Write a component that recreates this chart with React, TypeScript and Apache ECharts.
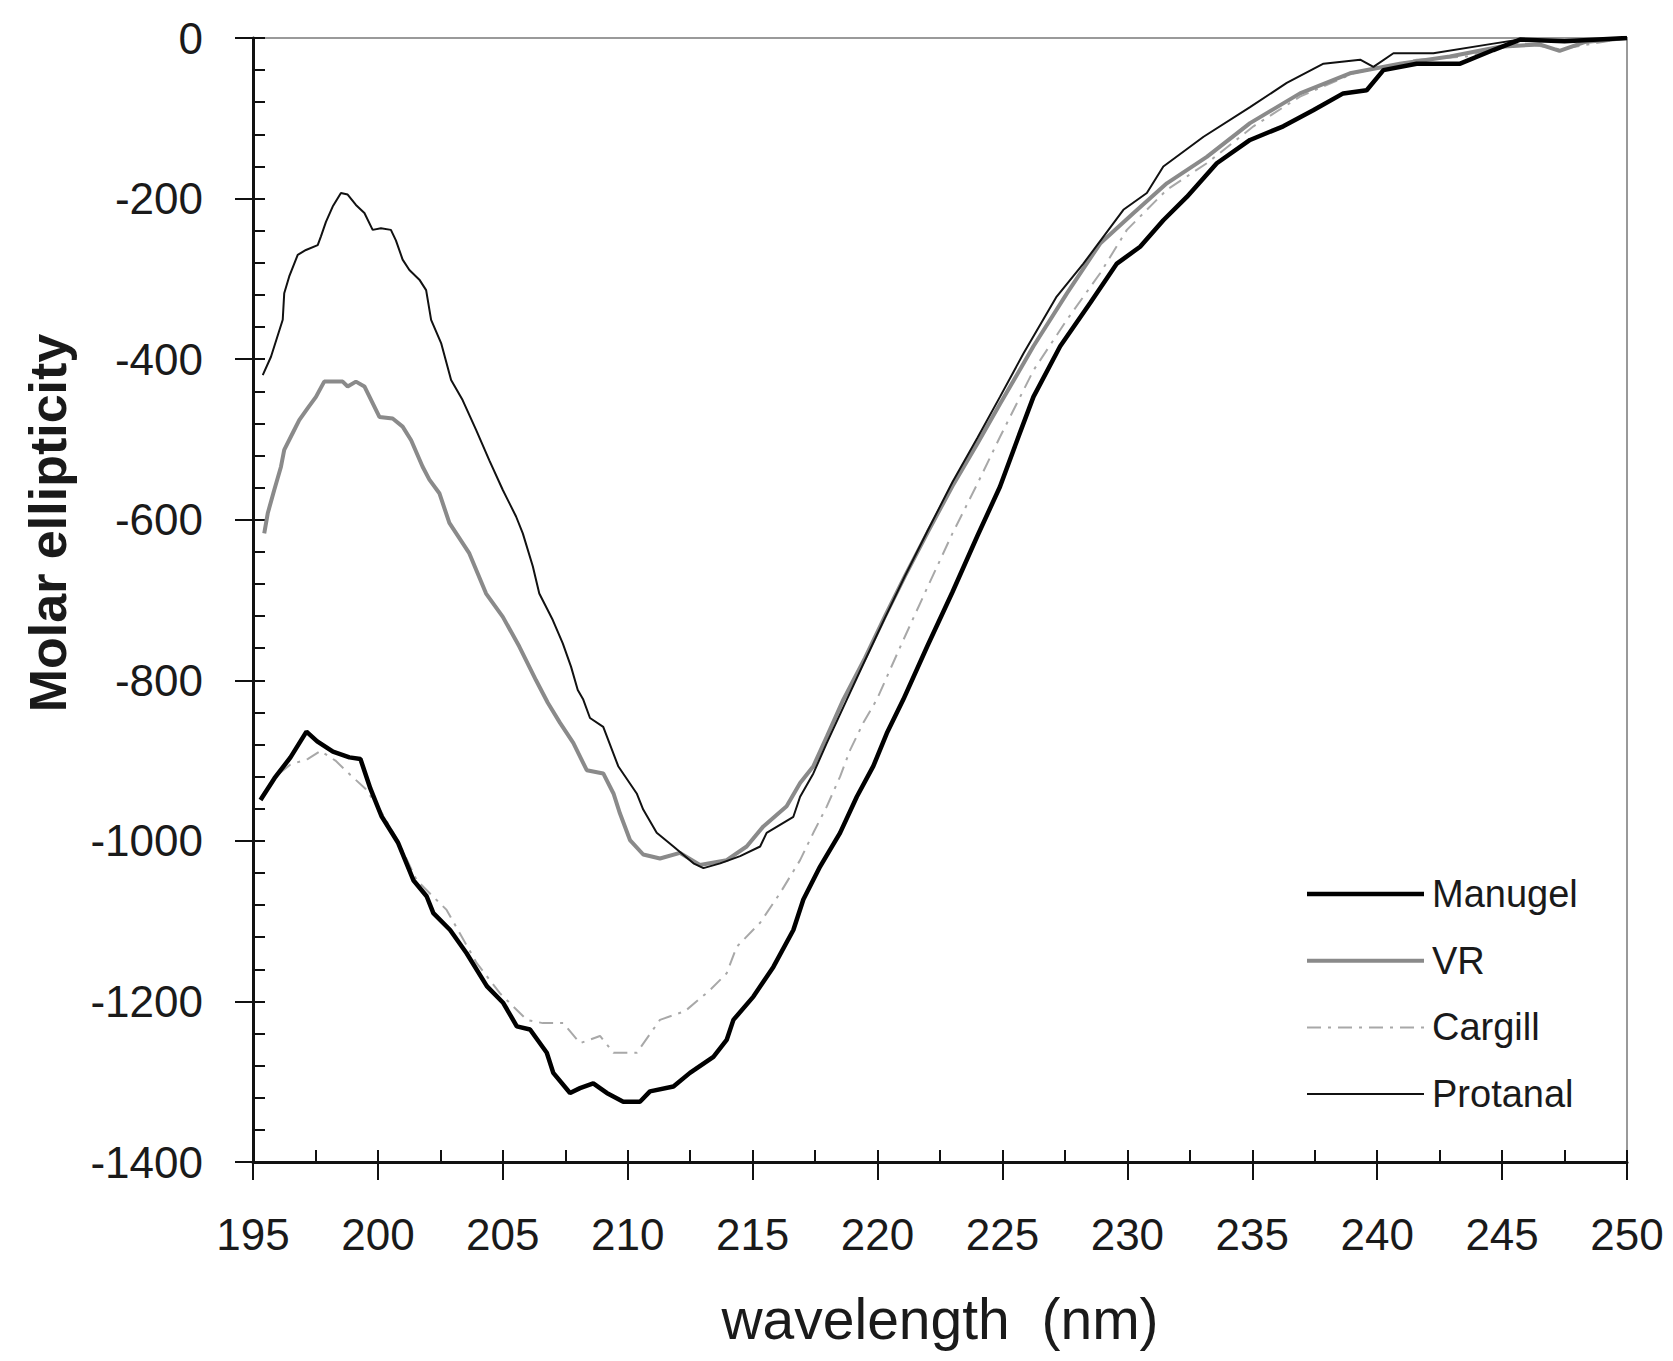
import React, { useEffect, useRef } from 'react';
import * as echarts from 'echarts';

// ---- Data (wavelength nm, molar ellipticity) ----
const seriesNames = ['Manugel', 'VR', 'Cargill', 'Protanal'];

const xRange = [195, 250];
const yRange = [-1400, 0];
const xStep = 5;
const yStep = 200;

const manugel: [number, number][] = [
  [195.3, -949], [195.86, -922], [196.5, -896], [197.14, -864], [197.57, -876], [198.2, -889],
  [198.86, -896], [199.3, -898], [199.7, -935], [200.14, -969], [200.8, -1002], [201.42, -1049],
  [201.95, -1069], [202.22, -1090], [202.89, -1111], [203.55, -1140], [204.36, -1181], [205.02, -1202],
  [205.56, -1231], [206.09, -1235], [206.76, -1264], [207.02, -1289], [207.69, -1314], [208.09, -1308],
  [208.62, -1302], [209.16, -1314], [209.82, -1325], [210.49, -1325], [210.89, -1312], [211.83, -1306],
  [212.49, -1289], [213.43, -1269], [213.96, -1248], [214.23, -1223], [215.03, -1194], [215.83, -1157],
  [216.63, -1111], [217.03, -1073], [217.7, -1032], [218.5, -990], [219.17, -945], [219.83, -907],
  [220.37, -866], [221.03, -824], [222.0, -757], [223.0, -690], [224.0, -620], [224.9, -559],
  [225.6, -500], [226.24, -447], [227.31, -384], [228.51, -330], [229.58, -281], [230.51, -260],
  [231.44, -227], [232.38, -198], [233.58, -156], [234.91, -127], [236.24, -110], [237.44, -90],
  [238.64, -69], [239.58, -65], [240.25, -40], [241.58, -32], [243.32, -32], [244.65, -15],
  [245.72, -2], [247.5, -4], [250, 0],
];

const vr: [number, number][] = [
  [195.45, -617], [195.59, -592], [195.85, -563], [196.12, -534], [196.25, -513], [196.59, -492],
  [196.85, -476], [197.19, -461], [197.52, -447], [197.85, -428], [198.59, -428], [198.79, -434],
  [199.12, -428], [199.46, -434], [200.06, -472], [200.59, -474], [200.99, -484], [201.33, -501],
  [201.79, -534], [202.06, -550], [202.46, -567], [202.86, -604], [203.66, -642], [204.33, -692],
  [205.0, -721], [205.66, -758], [206.33, -800], [206.8, -828], [207.29, -853], [207.82, -878],
  [208.36, -912], [209.02, -916], [209.43, -941], [209.69, -966], [210.09, -999], [210.62, -1017],
  [211.29, -1022], [212.09, -1015], [212.89, -1030], [213.96, -1024], [214.76, -1007], [215.43, -982],
  [216.36, -957], [216.9, -928], [217.43, -907], [217.97, -870], [218.63, -824], [219.5, -772],
  [220.3, -720], [221.1, -670], [222.0, -616], [223.0, -558], [224.0, -505], [224.9, -456],
  [226.24, -384], [227.58, -318], [228.91, -256], [230.25, -218], [231.58, -181], [233.18, -148],
  [234.91, -106], [236.91, -69], [238.91, -44], [240.91, -32], [242.91, -23], [244.91, -11],
  [246.5, -8], [247.3, -16], [248.3, -5], [250, 0],
];

const cargill: [number, number][] = [
  [195.3, -946], [195.9, -920], [196.5, -905], [197.2, -898], [197.7, -888], [198.3, -900],
  [198.9, -918], [199.5, -935], [200.1, -962], [200.8, -1000], [201.55, -1049], [202.75, -1086],
  [203.95, -1152], [204.89, -1190], [205.96, -1223], [206.6, -1227], [207.42, -1227], [208.09, -1252],
  [208.89, -1243], [209.43, -1264], [210.36, -1264], [211.29, -1223], [212.3, -1212], [213.29, -1186],
  [213.96, -1165], [214.36, -1132], [215.3, -1102], [216.1, -1065], [216.9, -1024], [217.43, -990],
  [217.97, -957], [218.5, -920], [218.9, -887], [219.43, -853], [219.97, -824], [221.0, -752],
  [222.0, -684], [223.0, -617], [224.0, -555], [224.9, -497], [226.24, -414], [227.58, -351],
  [228.91, -293], [229.98, -239], [231.58, -189], [233.18, -156], [235.05, -110], [236.91, -73],
  [239.05, -44], [241.58, -27], [243.58, -23], [245.72, -6], [247.3, -14], [250, 0],
];

const protanal: [number, number][] = [
  [195.39, -420], [195.72, -397], [196.19, -351], [196.25, -318], [196.45, -297], [196.79, -270],
  [197.12, -264], [197.59, -258], [197.72, -247], [197.92, -229], [198.19, -210], [198.52, -193],
  [198.79, -195], [199.12, -208], [199.46, -218], [199.79, -239], [200.12, -237], [200.52, -239],
  [200.72, -252], [200.99, -276], [201.26, -289], [201.66, -301], [201.93, -314], [202.13, -351],
  [202.53, -380], [202.93, -426], [203.39, -451], [203.93, -488], [204.46, -526], [205.0, -563],
  [205.53, -596], [205.8, -617], [206.2, -658], [206.46, -692], [207.0, -725], [207.4, -754],
  [207.73, -783], [208.0, -812], [208.22, -824], [208.49, -847], [209.02, -858], [209.62, -907],
  [210.36, -941], [210.62, -961], [211.16, -990], [211.83, -1007], [212.63, -1028], [213.03, -1034],
  [213.7, -1028], [214.5, -1019], [215.3, -1007], [215.56, -990], [216.63, -970], [216.9, -945],
  [217.43, -916], [217.97, -878], [218.77, -824], [219.5, -775], [220.3, -722], [221.1, -670],
  [222.0, -614], [223.0, -553], [224.0, -498], [224.9, -447], [225.84, -393], [227.17, -322],
  [228.24, -281], [229.84, -214], [230.78, -193], [231.44, -160], [233.05, -123], [234.91, -86],
  [236.38, -56], [237.85, -32], [239.32, -27], [239.85, -36], [240.65, -19], [242.25, -19],
  [244.65, -7], [245.72, -2], [247.5, -3], [250, 0],
];

const FONT = '"Liberation Sans", Arial, sans-serif';

const styles: Record<string, { color: string; width: number; type: any; z: number }> = {
  Manugel: { color: '#000000', width: 4.5, type: 'solid', z: 5 },
  VR: { color: '#8a8a8a', width: 4, type: 'solid', z: 3 },
  Cargill: { color: '#a8a8a8', width: 2, type: [14, 7, 3, 7], z: 2 },
  Protanal: { color: '#111111', width: 2, type: 'solid', z: 4 },
};
const seriesData: Record<string, [number, number][]> = {
  Manugel: manugel,
  VR: vr,
  Cargill: cargill,
  Protanal: protanal,
};

export default function App() {
  const ref = useRef<HTMLDivElement>(null);
  useEffect(() => {
    const chart = echarts.init(ref.current!, null, { renderer: 'svg' });
    const tickColor = '#111';
    const baseX = {
      type: 'value',
      min: xRange[0],
      max: xRange[1],
      interval: xStep,
      position: 'bottom',
      splitLine: { show: false },
    };
    const baseY = {
      type: 'value',
      min: yRange[0],
      max: yRange[1],
      interval: yStep,
      position: 'left',
      splitLine: { show: false },
    };

    // legend drawn as graphic (line samples + labels)
    const legendX = 1307;
    const legendLineW = 117;
    const legendTop = 894;
    const legendStep = 66.7;
    const legendGraphics: any[] = [];
    seriesNames.forEach((name, i) => {
      const st = styles[name];
      const y = legendTop + i * legendStep;
      legendGraphics.push({
        type: 'line',
        shape: { x1: legendX, y1: y, x2: legendX + legendLineW, y2: y },
        style: {
          stroke: st.color,
          lineWidth: st.width,
          lineDash: Array.isArray(st.type) ? st.type : null,
        },
        z: 10,
      });
      legendGraphics.push({
        type: 'text',
        x: legendX + legendLineW + 8,
        y: y,
        style: {
          text: name,
          font: `38px ${FONT}`,
          fill: '#1a1a1a',
          textAlign: 'left',
          textVerticalAlign: 'middle',
        },
        z: 10,
      });
    });

    chart.setOption({
      animation: false,
      backgroundColor: '#ffffff',
      textStyle: { fontFamily: FONT },
      grid: {
        left: 253,
        top: 38,
        width: 1374,
        height: 1124,
        show: true,
        borderColor: '#9a9a9a',
        borderWidth: 2,
        backgroundColor: 'transparent',
      },
      xAxis: [
        {
          ...baseX,
          axisLine: { show: true, onZero: false, lineStyle: { color: tickColor, width: 3 } },
          axisTick: { show: true, inside: false, length: 18, lineStyle: { color: tickColor, width: 2 } },
          axisLabel: { fontSize: 44, color: '#1a1a1a', margin: 50, fontFamily: FONT },
          name: 'wavelength  (nm)',
          nameLocation: 'middle',
          nameGap: 128,
          nameTextStyle: { fontSize: 57, color: '#1a1a1a', fontFamily: FONT },
        },
        {
          ...baseX,
          axisLine: { show: false, onZero: false },
          axisTick: { show: true, inside: true, length: 12, lineStyle: { color: tickColor, width: 2 } },
          minorTick: { show: true, splitNumber: 2, length: 12, lineStyle: { color: tickColor, width: 2 } },
          axisLabel: { show: false },
        },
      ],
      yAxis: [
        {
          ...baseY,
          axisLine: { show: true, onZero: false, lineStyle: { color: tickColor, width: 3 } },
          axisTick: { show: true, inside: false, length: 18, lineStyle: { color: tickColor, width: 2 } },
          axisLabel: {
            fontSize: 44,
            color: '#1a1a1a',
            margin: 50,
            fontFamily: FONT,
            formatter: (v: number) => String(v),
          },
        },
        {
          ...baseY,
          axisLine: { show: false, onZero: false },
          axisTick: { show: true, inside: true, length: 12, lineStyle: { color: tickColor, width: 2 } },
          minorTick: { show: true, splitNumber: 5, length: 12, lineStyle: { color: tickColor, width: 2 } },
          axisLabel: { show: false },
        },
      ],
      graphic: [
        {
          type: 'text',
          x: 48,
          y: 523,
          rotation: Math.PI / 2,
          style: {
            text: 'Molar ellipticity',
            font: `bold 52px ${FONT}`,
            fill: '#1a1a1a',
            textAlign: 'center',
            textVerticalAlign: 'middle',
          },
        },
        ...legendGraphics,
      ],
      series: seriesNames.map((name) => ({
        name,
        type: 'line',
        data: seriesData[name],
        symbol: 'none',
        showSymbol: false,
        lineStyle: { color: styles[name].color, width: styles[name].width, type: styles[name].type },
        itemStyle: { color: styles[name].color },
        z: styles[name].z,
      })),
    });
    return () => chart.dispose();
  }, []);
  return (
    <div
      ref={ref}
      style={{ position: 'fixed', left: 0, top: 0, width: 1673, height: 1361, background: '#fff' }}
    />
  );
}
